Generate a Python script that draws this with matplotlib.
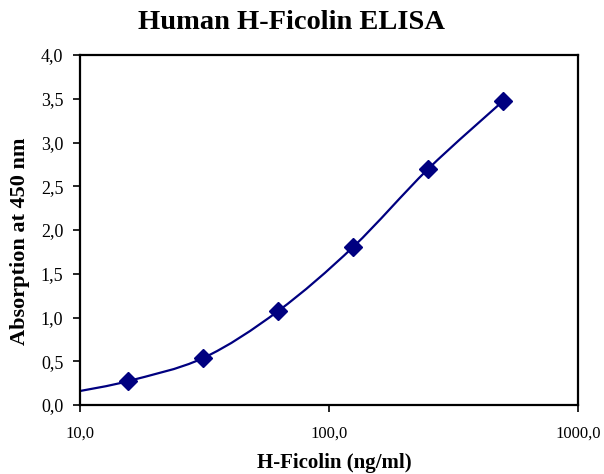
import numpy as np
import matplotlib
matplotlib.use("Agg")
import matplotlib.pyplot as plt
from matplotlib.path import Path
from matplotlib.patches import PathPatch
from matplotlib.ticker import FixedLocator, FuncFormatter, NullLocator

# Data
conc = [15.625, 31.25, 62.5, 125, 250, 500]
absorb = [0.274, 0.537, 1.074, 1.806, 2.697, 3.474]
# smoothed fit-curve anchors (curve starts at left edge)
curve_x = [10, 15.625, 31.25, 62.5, 125, 250, 500]
curve_y = [0.16, 0.274, 0.537, 1.074, 1.806, 2.697, 3.474]

x_ticks = [10, 100, 1000]
y_ticks = [0.0, 0.5, 1.0, 1.5, 2.0, 2.5, 3.0, 3.5, 4.0]

title = "Human H-Ficolin ELISA"
xlabel = "H-Ficolin (ng/ml)"
ylabel = "Absorption at 450 nm"

navy = "#000080"
serif = ["Liberation Serif", "DejaVu Serif"]

W, H = 604, 474
fig = plt.figure(figsize=(W/100, H/100), dpi=100)
ax = fig.add_axes([80/W, 69/H, 498/W, 350/H])
ax.set_xscale("log")
ax.set_xlim(10, 1000)
ax.set_ylim(0, 4.0)

# Excel-like smoothed line (Bezier through anchors, in log-x space)
lx = np.log10(curve_x)
ly = np.array(curve_y, dtype=float)
n = len(lx)
verts = [(curve_x[0], ly[0])]
codes = [Path.MOVETO]
for i in range(n - 1):
    p0 = np.array([lx[max(i-1, 0)], ly[max(i-1, 0)]])
    p1 = np.array([lx[i], ly[i]])
    p2 = np.array([lx[i+1], ly[i+1]])
    p3 = np.array([lx[min(i+2, n-1)], ly[min(i+2, n-1)]])
    c1 = p1 + (p2 - p0) / 6.0
    c2 = p2 - (p3 - p1) / 6.0
    for c in (c1, c2, p2):
        verts.append((10 ** c[0], c[1]))
        codes.append(Path.CURVE4)
patch = PathPatch(Path(verts, codes), facecolor="none", edgecolor=navy, lw=1.6,
                  transform=ax.transData, clip_on=True)
ax.add_patch(patch)

ax.plot(conc, absorb, linestyle="none", marker="D", markersize=9,
        color=navy, markeredgecolor=navy, zorder=3)

fmt = FuncFormatter(lambda v, p: f"{v:.1f}".replace(".", ","))
ax.xaxis.set_major_locator(FixedLocator(x_ticks))
ax.xaxis.set_minor_locator(NullLocator())
ax.xaxis.set_major_formatter(fmt)
ax.set_yticks(y_ticks)
ax.yaxis.set_major_formatter(fmt)

for s in ax.spines.values():
    s.set_linewidth(1.6)
    s.set_color("black")
ax.tick_params(direction="out", length=5, width=1.2, colors="black")
ax.tick_params(axis="y", pad=7)
ax.tick_params(axis="x", pad=10)
for lab in ax.get_yticklabels():
    lab.set_family(serif)
    lab.set_fontsize(13)
for lab in ax.get_xticklabels():
    lab.set_family(serif)
    lab.set_fontsize(12)

fig.text(334.5/W, 1 - 468/H, xlabel, ha="center", va="baseline", family=serif,
         fontsize=15, fontweight="bold")
fig.text(20.5/W, 1 - 241.5/H, ylabel, ha="center", va="center", rotation=90,
         family=serif, fontsize=16, fontweight="bold")
fig.text(291/W, 1 - 29/H, title, ha="center", va="baseline", family=serif,
         fontsize=20.5, fontweight="bold")

fig.savefig("out.png", dpi=100, facecolor="white")
